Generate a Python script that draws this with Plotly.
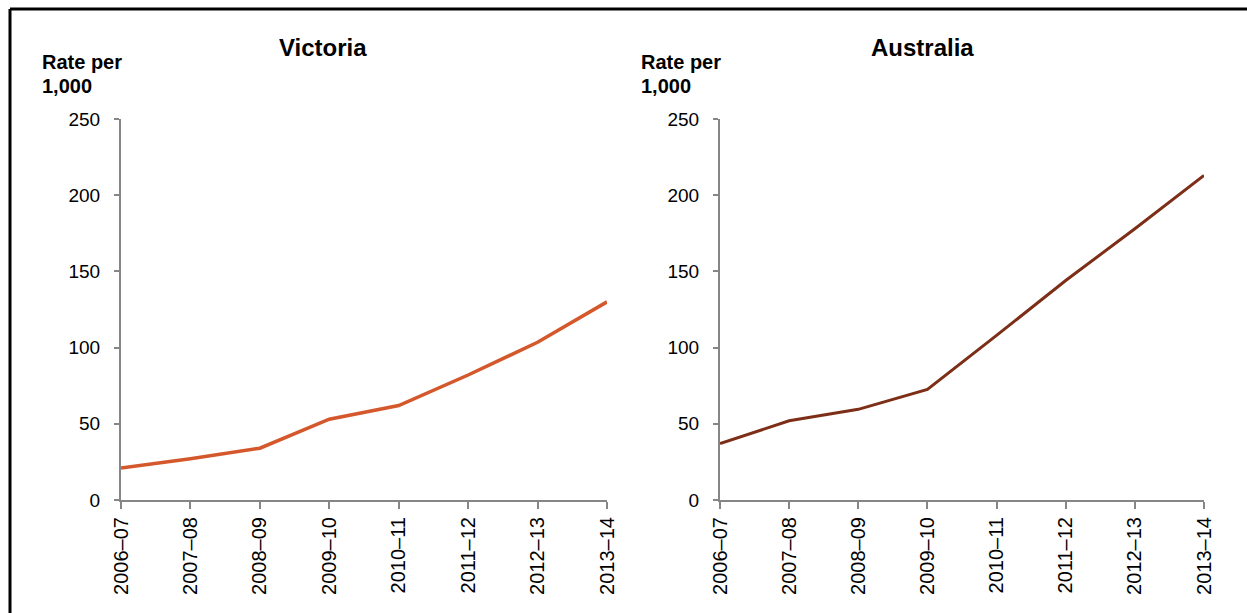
import plotly.graph_objects as go

# Financial years on the x axis
years = ["2006–07", "2007–08", "2008–09", "2009–10",
         "2010–11", "2011–12", "2012–13", "2013–14"]

# Rate per 1,000
victoria = [21, 27, 34, 53, 62, 82, 103.5, 130]
australia = [37, 52, 59.5, 72.5, 108, 144, 178, 213]

panel_titles = ["Victoria", "Australia"]
y_unit_lines = ["Rate per", "1,000"]
y_ticks = [0, 50, 100, 150, 200, 250]

W, H = 1247, 613
FONT = "Liberation Sans, Arial, sans-serif"
AXIS_GREY = "#868686"


def px_x(p):
    return p / W


def px_y(p):
    return 1 - p / H


fig = go.Figure()

fig.add_trace(go.Scatter(x=years, y=victoria, mode="lines",
                         line=dict(color="#D4582B", width=3.5),
                         xaxis="x", yaxis="y", showlegend=False))
fig.add_trace(go.Scatter(x=years, y=australia, mode="lines",
                         line=dict(color="#7C2E17", width=3),
                         xaxis="x2", yaxis="y2", showlegend=False))

y_dom = [px_y(500), px_y(119)]
x_doms = [[px_x(121), px_x(607)], [px_x(720), px_x(1204)]]

xaxis_common = dict(
    type="category", categoryorder="array", categoryarray=years,
    range=[0, len(years) - 1], showline=True, linecolor=AXIS_GREY, linewidth=2,
    ticks="outside", ticklen=7, tickcolor=AXIS_GREY, tickwidth=2,
    tickangle=-90, tickfont=dict(family=FONT, size=20, color="#000"),
    showgrid=False, zeroline=False, fixedrange=True, automargin=False,
)
yaxis_common = dict(
    range=[0, 250], tickvals=y_ticks, showline=True, linecolor=AXIS_GREY,
    linewidth=2, ticks="outside", ticklen=5, tickcolor=AXIS_GREY, tickwidth=2,
    tickfont=dict(family=FONT, size=19, color="#000"), ticklabelstandoff=10,
    showgrid=False, zeroline=False, fixedrange=True, automargin=False,
)

annotations = []
for i, (title, dom) in enumerate(zip(panel_titles, x_doms)):
    left_px = dom[0] * W
    annotations.append(dict(
        text=f"<b>{title}</b>", x=px_x(left_px + 202), y=px_y(48),
        xref="paper", yref="paper", xanchor="center", yanchor="middle",
        showarrow=False, font=dict(family=FONT, size=24, color="#000")))
    for line_text, cy in zip(y_unit_lines, [62, 86]):
        annotations.append(dict(
            text=f"<b>{line_text}</b>", x=px_x(left_px - 81), y=px_y(cy),
            xref="paper", yref="paper", xanchor="left", yanchor="middle",
            showarrow=False, font=dict(family=FONT, size=20, color="#000")))

# Frame along the top and left edges
shapes = [
    dict(type="line", xref="paper", yref="paper", x0=px_x(10), x1=1.0,
         y0=px_y(9), y1=px_y(9), line=dict(color="#000", width=3)),
    dict(type="line", xref="paper", yref="paper", x0=px_x(10), x1=px_x(10),
         y0=px_y(9), y1=0, line=dict(color="#000", width=3)),
]

fig.update_layout(
    width=W, height=H, margin=dict(l=0, r=0, t=0, b=0, autoexpand=False),
    paper_bgcolor="white", plot_bgcolor="white",
    xaxis=dict(domain=x_doms[0], anchor="y", **xaxis_common),
    yaxis=dict(domain=y_dom, anchor="x", **yaxis_common),
    xaxis2=dict(domain=x_doms[1], anchor="y2", **xaxis_common),
    yaxis2=dict(domain=y_dom, anchor="x2", **yaxis_common),
    annotations=annotations, shapes=shapes, showlegend=False,
)

fig.write_html("out.html")
